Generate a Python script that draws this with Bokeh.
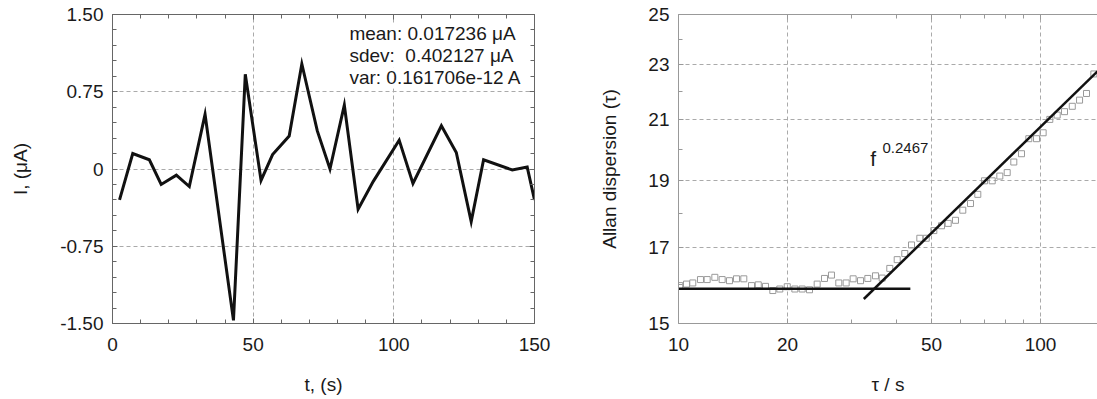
from bokeh.plotting import figure
from bokeh.layouts import row
from bokeh.models import FixedTicker, LinearAxis, LogAxis, Label, Range1d, BasicTickFormatter
from bokeh.embed import file_html
from bokeh.resources import INLINE

FONT = "Liberation Sans"
TXT = "#1a1a1a"

# ---------------- data: current trace ----------------
t_s = [2.5, 7.2, 13.1, 17.3, 22.7, 27.3, 32.9, 43.0, 47.2, 52.8, 56.9, 62.8, 67.3, 72.8,
       77.3, 82.4, 87.3, 92.7, 101.9, 106.8, 116.9, 122.2, 127.5, 131.9, 142.1, 147.4, 150.0]
i_uA = [-0.30, 0.15, 0.09, -0.15, -0.06, -0.17, 0.53, -1.47, 0.92, -0.11, 0.14, 0.32, 1.02, 0.37,
        0.00, 0.62, -0.39, -0.12, 0.28, -0.14, 0.42, 0.16, -0.51, 0.09, -0.01, 0.02, -0.30]
stats_lines = ["mean: 0.017236 \u03bcA", "sdev:\u00a0 0.402127 \u03bcA", "var: 0.161706e-12 A"]
left_xticks = [0, 50, 100, 150]
left_yticks = [-1.5, -0.75, 0, 0.75, 1.5]
left_ylabels = {-1.5: "-1.50", -0.75: "-0.75", 0: "0", 0.75: "0.75", 1.5: "1.50"}

# ---------------- data: Allan dispersion ----------------
tau = [10.08, 10.52, 10.95, 11.50, 12.00, 12.60, 13.20, 13.83, 14.46, 15.15, 15.91, 16.61,
       17.39, 18.22, 19.05, 19.97, 20.96, 21.96, 23.01, 24.16, 25.31, 26.46, 27.72, 29.05,
       30.37, 31.83, 33.34, 35.01, 36.53, 38.34, 40.19, 42.18, 44.02, 46.41, 48.34, 50.74,
       53.28, 55.59, 58.23, 61.00, 64.06, 67.11, 70.03, 73.55, 77.20, 80.91, 84.38, 88.61,
       92.84, 97.50, 101.7, 106.1, 111.2, 116.5, 122.4, 128.2, 134.0, 140.4]
adev = [15.97, 16.01, 16.04, 16.13, 16.13, 16.19, 16.13, 16.10, 16.15, 16.15, 15.97, 15.99,
        15.95, 15.84, 15.88, 15.94, 15.88, 15.88, 15.86, 16.01, 16.16, 16.25, 16.04, 16.04,
        16.15, 16.10, 16.16, 16.23, 16.17, 16.43, 16.67, 16.84, 17.08, 17.27, 17.27, 17.49,
        17.63, 17.70, 17.79, 18.09, 18.29, 18.57, 18.99, 18.99, 19.14, 19.25, 19.59, 19.86,
        20.36, 20.36, 20.56, 21.02, 21.17, 21.29, 21.48, 21.70, 21.94, 22.66]
level_tau = [10.0, 43.7]
level_val = [15.89, 15.89]
fit_tau = [32.5, 143.7]
fit_val = [15.62, 22.76]
fit_label = "f"
fit_exp = "0.2467"
right_xticks = [10, 20, 50, 100]
right_xminor = [30, 40, 60, 70, 80, 90]
right_yticks = [15, 17, 19, 21, 23, 25]
right_yminor = [16, 18, 20, 22, 24]


def style_axis(ax, color, labels=True):
    ax.axis_line_color = color
    ax.axis_line_width = 1
    ax.major_tick_line_color = color
    ax.minor_tick_line_color = color
    ax.major_tick_in = 5
    ax.major_tick_out = 0
    ax.minor_tick_in = 4
    ax.minor_tick_out = 0
    ax.major_label_text_font = FONT
    ax.axis_label_text_font = FONT
    ax.axis_label_text_font_size = "19px"
    ax.axis_label_text_font_style = "normal"
    ax.axis_label_text_color = TXT
    ax.axis_label_text_line_height = 1.0
    ax.major_label_text_line_height = 1.0
    if labels:
        ax.major_label_text_font_size = "19px"
        ax.major_label_text_color = TXT
        ax.major_label_standoff = 9
    else:
        ax.major_label_text_font_size = "1px"
        ax.major_label_text_color = None
        ax.major_label_standoff = 0


# ---------------- left figure ----------------
p1 = figure(width=560, height=399, output_backend="svg", toolbar_location=None,
            x_range=Range1d(0, 150), y_range=Range1d(-1.5, 1.5),
            min_border_left=112, min_border_right=26, min_border_top=14, min_border_bottom=76)
p1.outline_line_color = None
p1.background_fill_color = "white"
p1.border_fill_color = "white"

lx_ticker = FixedTicker(ticks=left_xticks, minor_ticks=list(range(0, 151, 10)))
ly_minor = [-1.5, -1.35, -1.2, -1.05, -0.9, -0.75, -0.6, -0.45, -0.3, -0.15, 0,
            0.15, 0.3, 0.45, 0.6, 0.75, 0.9, 1.05, 1.2, 1.35, 1.5]
ly_ticker = FixedTicker(ticks=left_yticks, minor_ticks=ly_minor)

p1.xaxis.ticker = lx_ticker
p1.yaxis.ticker = ly_ticker
p1.yaxis.major_label_overrides = left_ylabels
p1.xaxis.axis_label = "t, (s)"
p1.yaxis.axis_label = "I, (\u03bcA)"
style_axis(p1.xaxis[0], "#666666")
style_axis(p1.yaxis[0], "#666666")
p1.xaxis.major_label_standoff = 14
p1.xaxis.axis_label_standoff = 20
p1.yaxis.axis_label_standoff = 26

top1 = LinearAxis(ticker=lx_ticker)
style_axis(top1, "#666666", labels=False)
p1.add_layout(top1, "above")
right1 = LinearAxis(ticker=ly_ticker)
style_axis(right1, "#666666", labels=False)
p1.add_layout(right1, "right")

for g, tk in ((p1.xgrid, lx_ticker), (p1.ygrid, ly_ticker)):
    g.ticker = tk
    g.grid_line_color = "#aaaaaa"
    g.grid_line_dash = "4 3"
    g.grid_line_width = 1

p1.line(t_s, i_uA, line_color="#111111", line_width=3, line_join="miter")

for txt, yv in zip(stats_lines, [1.315, 1.10, 0.886]):
    p1.add_layout(Label(x=84.2, y=yv, text=txt, text_font=FONT, text_font_size="19px",
                        text_color=TXT, text_align="left", text_baseline="middle",
                        background_fill_color="white"))

# ---------------- right figure ----------------
p2 = figure(width=537, height=399, output_backend="svg", toolbar_location=None,
            x_axis_type="log", y_axis_type="log",
            x_range=Range1d(10, 143.7), y_range=Range1d(15, 25),
            min_border_left=118, min_border_right=0, min_border_top=14, min_border_bottom=76)
p2.outline_line_color = None
p2.background_fill_color = "white"
p2.border_fill_color = "white"

rx_ticker = FixedTicker(ticks=right_xticks, minor_ticks=right_xminor)
ry_ticker = FixedTicker(ticks=right_yticks, minor_ticks=right_yminor)
p2.xaxis.ticker = rx_ticker
p2.yaxis.ticker = ry_ticker
p2.xaxis.formatter = BasicTickFormatter()
p2.yaxis.formatter = BasicTickFormatter()
p2.xaxis.axis_label = "\u03c4 / s"
p2.yaxis.axis_label = "Allan dispersion (\u03c4)"
style_axis(p2.xaxis[0], "#999999")
style_axis(p2.yaxis[0], "#999999")
p2.xaxis.major_label_standoff = 14
p2.xaxis.axis_label_standoff = 20
p2.yaxis.axis_label_standoff = 25

top2 = LogAxis(ticker=rx_ticker)
style_axis(top2, "#999999", labels=False)
p2.add_layout(top2, "above")

for g, tk in ((p2.xgrid, rx_ticker), (p2.ygrid, ry_ticker)):
    g.ticker = tk
    g.grid_line_color = "#aaaaaa"
    g.grid_line_dash = "4 3"
    g.grid_line_width = 1

p2.scatter(tau, adev, marker="square", size=6, fill_color=None,
           line_color="#9a9a9a", line_width=1)
p2.line(level_tau, level_val, line_color="#111111", line_width=2.5)
p2.line(fit_tau, fit_val, line_color="#111111", line_width=2.5)

p2.add_layout(Label(x=34.5, y=19.69, text=fit_label, text_font=FONT, text_font_size="21px",
                    text_color=TXT, text_align="center", text_baseline="middle"))
p2.add_layout(Label(x=36.6, y=20.06, text=fit_exp, text_font=FONT, text_font_size="15px",
                    text_color=TXT, text_align="left", text_baseline="middle"))

layout = row(p1, p2)
open("out.html", "w").write(file_html(layout, INLINE))
